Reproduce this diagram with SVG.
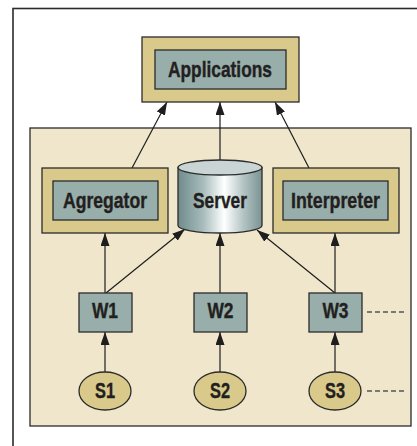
<svg xmlns="http://www.w3.org/2000/svg" width="417" height="446" viewBox="0 0 417 446">
<defs>
<linearGradient id="cyl" x1="0" y1="0" x2="1" y2="0">
<stop offset="0" stop-color="#6f8b8b"/>
<stop offset="0.3" stop-color="#a8bcbc"/>
<stop offset="0.55" stop-color="#ffffff"/>
<stop offset="0.78" stop-color="#b3c3c3"/>
<stop offset="1" stop-color="#7a9393"/>
</linearGradient>
<marker id="ah" markerUnits="userSpaceOnUse" markerWidth="13" markerHeight="9" refX="13" refY="4.5" orient="auto">
<path d="M0,0 L13,4.5 L0,9 Z" fill="#1e1e1e"/>
</marker>
<style>
.outer{fill:#d9c98a;stroke:#2b2b2b;stroke-width:1.3}
.inner{fill:#97aeab;stroke:#2b2b2b;stroke-width:1.3}
.src{fill:#d9c98a;stroke:#2b2b2b;stroke-width:1.3}
.lbl{font-family:"Liberation Sans",Arial,sans-serif;font-weight:bold;font-size:22.5px;fill:#231f20;stroke:#231f20;stroke-width:0.4;text-anchor:middle}
.con{stroke:#1e1e1e;stroke-width:1.2;fill:none;marker-end:url(#ah)}
.dash{stroke:#555;stroke-width:1.3;stroke-dasharray:5,3;fill:none}
</style>
</defs>
<rect x="0" y="0" width="417" height="446" fill="#ffffff"/>
<rect id="frame" x="13" y="8.5" width="420" height="450" fill="#ffffff" stroke="#2b2b2b" stroke-width="1.6"/>
<rect id="panel" x="30" y="128" width="381" height="298" fill="#efe6cb" stroke="#2b2b2b" stroke-width="1.3"/>

<g id="connectors">
<line class="con" x1="132" y1="168" x2="167" y2="102"/>
<line class="con" x1="220" y1="160" x2="220" y2="102"/>
<line class="con" x1="309" y1="168" x2="275" y2="102"/>
<line class="con" x1="105" y1="293" x2="105" y2="233"/>
<line class="con" x1="106" y1="293" x2="185" y2="229"/>
<line class="con" x1="220" y1="293" x2="220" y2="233"/>
<line class="con" x1="335" y1="293" x2="257" y2="230"/>
<line class="con" x1="335" y1="293" x2="335" y2="233"/>
<line class="con" x1="105" y1="372" x2="105" y2="332"/>
<line class="con" x1="220" y1="372" x2="220" y2="332"/>
<line class="con" x1="335" y1="372" x2="335" y2="332"/>
<line class="dash" x1="367" y1="312" x2="404" y2="312"/>
<line class="dash" x1="367" y1="391" x2="404" y2="391"/>
</g>

<g id="applications">
<rect class="outer" x="142" y="37" width="157" height="65"/>
<rect class="inner" x="155" y="50" width="131" height="39"/>
<text class="lbl" x="220" y="77" textLength="104" lengthAdjust="spacingAndGlyphs">Applications</text>
</g>

<g id="agregator">
<rect class="outer" x="42" y="168" width="126" height="65"/>
<rect class="inner" x="53" y="181" width="105" height="39"/>
<text class="lbl" x="105" y="208" textLength="84" lengthAdjust="spacingAndGlyphs">Agregator</text>
</g>

<g id="server">
<path d="M178,167.5 L178,225.5 A42,7.5 0 0 0 262,225.5 L262,167.5 Z" fill="url(#cyl)" stroke="#2b2b2b" stroke-width="1.3"/>
<ellipse cx="220" cy="167.5" rx="42" ry="7.5" fill="#c9d5d5" stroke="#2b2b2b" stroke-width="1.3"/>
<text class="lbl" x="220" y="208" textLength="54" lengthAdjust="spacingAndGlyphs">Server</text>
</g>

<g id="interpreter">
<rect class="outer" x="273" y="168" width="126" height="65"/>
<rect class="inner" x="283" y="181" width="105" height="39"/>
<text class="lbl" x="335.5" y="208" textLength="89" lengthAdjust="spacingAndGlyphs">Interpreter</text>
</g>

<g id="w1">
<rect class="inner" x="79" y="293" width="53" height="39"/>
<text class="lbl" x="105" y="318" textLength="26" lengthAdjust="spacingAndGlyphs">W1</text>
</g>
<g id="w2">
<rect class="inner" x="194" y="293" width="53" height="39"/>
<text class="lbl" x="220.5" y="318" textLength="26" lengthAdjust="spacingAndGlyphs">W2</text>
</g>
<g id="w3">
<rect class="inner" x="309" y="293" width="53" height="39"/>
<text class="lbl" x="335.5" y="318" textLength="26" lengthAdjust="spacingAndGlyphs">W3</text>
</g>

<g id="s1">
<ellipse class="src" cx="105" cy="391" rx="26" ry="19"/>
<text class="lbl" x="105" y="398" textLength="20" lengthAdjust="spacingAndGlyphs">S1</text>
</g>
<g id="s2">
<ellipse class="src" cx="220" cy="391" rx="26" ry="19"/>
<text class="lbl" x="220" y="398" textLength="20" lengthAdjust="spacingAndGlyphs">S2</text>
</g>
<g id="s3">
<ellipse class="src" cx="335" cy="391" rx="26" ry="19"/>
<text class="lbl" x="335" y="398" textLength="20" lengthAdjust="spacingAndGlyphs">S3</text>
</g>
</svg>
